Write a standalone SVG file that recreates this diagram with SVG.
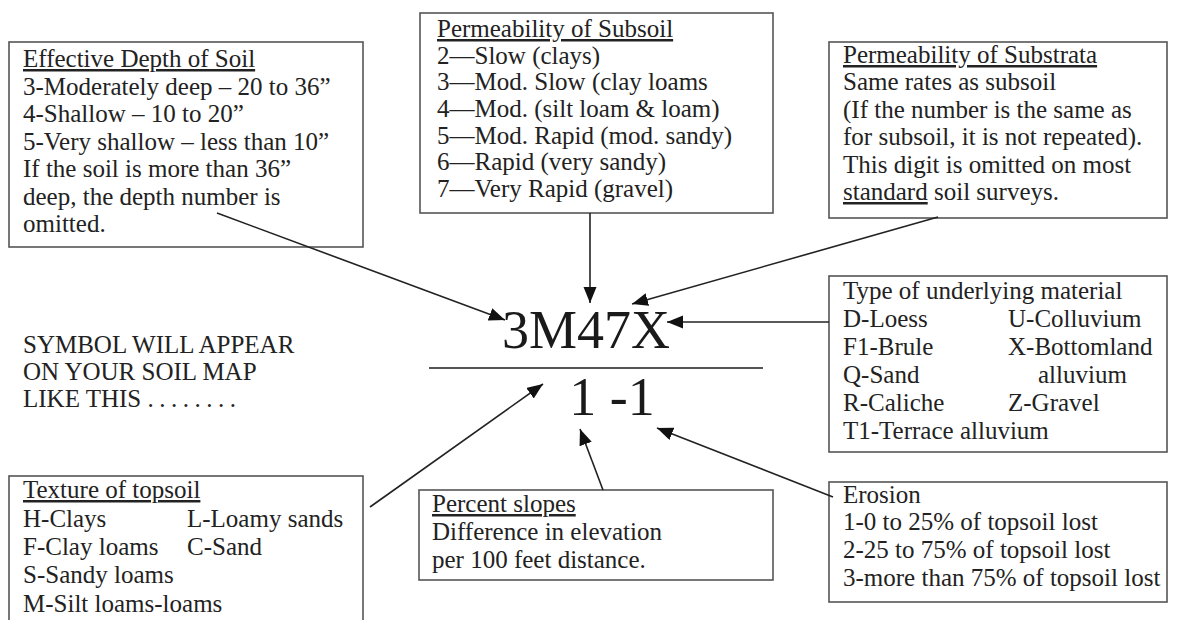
<svg xmlns="http://www.w3.org/2000/svg" width="1177" height="620" viewBox="0 0 1177 620">
<defs>
<style>
.bx{fill:none;stroke:#555;stroke-width:1.6}
.t{font-family:"Liberation Serif","Times New Roman",serif;font-size:25px;fill:#222}
.u{text-decoration:underline}
.big{font-family:"Liberation Serif","Times New Roman",serif;font-size:54px;fill:#1a1a1a}
.c{fill:none;stroke:#222;stroke-width:1.6}
</style>
<marker id="ah" markerUnits="userSpaceOnUse" markerWidth="18" markerHeight="14" refX="16" refY="6.5" orient="auto">
<path d="M0,0 L16,6.5 L0,13 z" fill="#111"/>
</marker>
</defs>
<rect width="1177" height="620" fill="#fff"/>

<g id="depth">
<rect class="bx" x="9" y="42" width="354" height="205"/>
<text class="t" x="23" y="67"><tspan class="u">Effective Depth of Soil</tspan></text>
<text class="t" x="23" y="95">3-Moderately deep – 20 to 36”</text>
<text class="t" x="23" y="122">4-Shallow – 10 to 20”</text>
<text class="t" x="23" y="150">5-Very shallow – less than 10”</text>
<text class="t" x="23" y="177">If the soil is more than 36”</text>
<text class="t" x="23" y="205">deep, the depth number is</text>
<text class="t" x="23" y="232">omitted.</text>
</g>

<g id="subsoil">
<rect class="bx" x="420" y="13" width="353" height="200"/>
<text class="t" x="437" y="37"><tspan class="u">Permeability of Subsoil</tspan></text>
<text class="t" x="437" y="64">2—Slow (clays)</text>
<text class="t" x="437" y="90">3—Mod. Slow (clay loams</text>
<text class="t" x="437" y="117">4—Mod. (silt loam &amp; loam)</text>
<text class="t" x="437" y="144">5—Mod. Rapid (mod. sandy)</text>
<text class="t" x="437" y="170">6—Rapid (very sandy)</text>
<text class="t" x="437" y="197">7—Very Rapid (gravel)</text>
</g>

<g id="substrata">
<rect class="bx" x="829" y="42" width="338" height="176"/>
<text class="t" x="843" y="63"><tspan class="u">Permeability of Substrata</tspan></text>
<text class="t" x="843" y="90">Same rates as subsoil</text>
<text class="t" x="843" y="118">(If the number is the same as</text>
<text class="t" x="843" y="145">for subsoil, it is not repeated).</text>
<text class="t" x="843" y="173">This digit is omitted on most</text>
<text class="t" x="843" y="200"><tspan class="u">standard</tspan> soil surveys.</text>
</g>

<g id="material">
<rect class="bx" x="829" y="276" width="338" height="176"/>
<text class="t" x="843" y="299">Type of underlying material</text>
<text class="t" x="843" y="327">D-Loess</text>
<text class="t" x="1008" y="327">U-Colluvium</text>
<text class="t" x="843" y="355">F1-Brule</text>
<text class="t" x="1008" y="355">X-Bottomland</text>
<text class="t" x="843" y="383">Q-Sand</text>
<text class="t" x="1038" y="383">alluvium</text>
<text class="t" x="843" y="411">R-Caliche</text>
<text class="t" x="1008" y="411">Z-Gravel</text>
<text class="t" x="843" y="439">T1-Terrace alluvium</text>
</g>

<g id="erosion">
<rect class="bx" x="829" y="482" width="338" height="120"/>
<text class="t" x="843" y="503">Erosion</text>
<text class="t" x="843" y="530">1-0 to 25% of topsoil lost</text>
<text class="t" x="843" y="558">2-25 to 75% of topsoil lost</text>
<text class="t" x="843" y="586">3-more than 75% of topsoil lost</text>
</g>

<g id="slopes">
<rect class="bx" x="419" y="490" width="354" height="90"/>
<text class="t" x="432" y="512"><tspan class="u">Percent slopes</tspan></text>
<text class="t" x="432" y="540">Difference in elevation</text>
<text class="t" x="432" y="568">per 100 feet distance.</text>
</g>

<g id="texture">
<rect class="bx" x="9" y="476" width="354" height="160"/>
<text class="t" x="23" y="498"><tspan class="u">Texture of topsoil</tspan></text>
<text class="t" x="23" y="527">H-Clays</text>
<text class="t" x="187" y="527">L-Loamy sands</text>
<text class="t" x="23" y="555">F-Clay loams</text>
<text class="t" x="187" y="555">C-Sand</text>
<text class="t" x="23" y="583">S-Sandy loams</text>
<text class="t" x="23" y="612">M-Silt loams-loams</text>
</g>

<g id="symbol">
<text class="big" x="586" y="348" text-anchor="middle">3M47X</text>
<line x1="429" y1="368" x2="763" y2="368" stroke="#555" stroke-width="2"/>
<text class="big" x="612" y="415" text-anchor="middle">1 -1</text>
</g>

<g id="caption">
<text class="t" x="23" y="353">SYMBOL WILL APPEAR</text>
<text class="t" x="23" y="380">ON YOUR SOIL MAP</text>
<text class="t" x="23" y="407">LIKE THIS <tspan letter-spacing="5.5">........</tspan></text>
</g>

<g id="connectors">
<line class="c" x1="217" y1="213" x2="505" y2="320" marker-end="url(#ah)"/>
<line class="c" x1="590" y1="213" x2="590" y2="303" marker-end="url(#ah)"/>
<line class="c" x1="938" y1="217" x2="632" y2="304" marker-end="url(#ah)"/>
<line class="c" x1="829" y1="322" x2="667" y2="322" marker-end="url(#ah)"/>
<line class="c" x1="370" y1="507" x2="543" y2="384" marker-end="url(#ah)"/>
<line class="c" x1="603" y1="490" x2="580" y2="429" marker-end="url(#ah)"/>
<line class="c" x1="833" y1="497" x2="657" y2="428" marker-end="url(#ah)"/>
</g>
</svg>
